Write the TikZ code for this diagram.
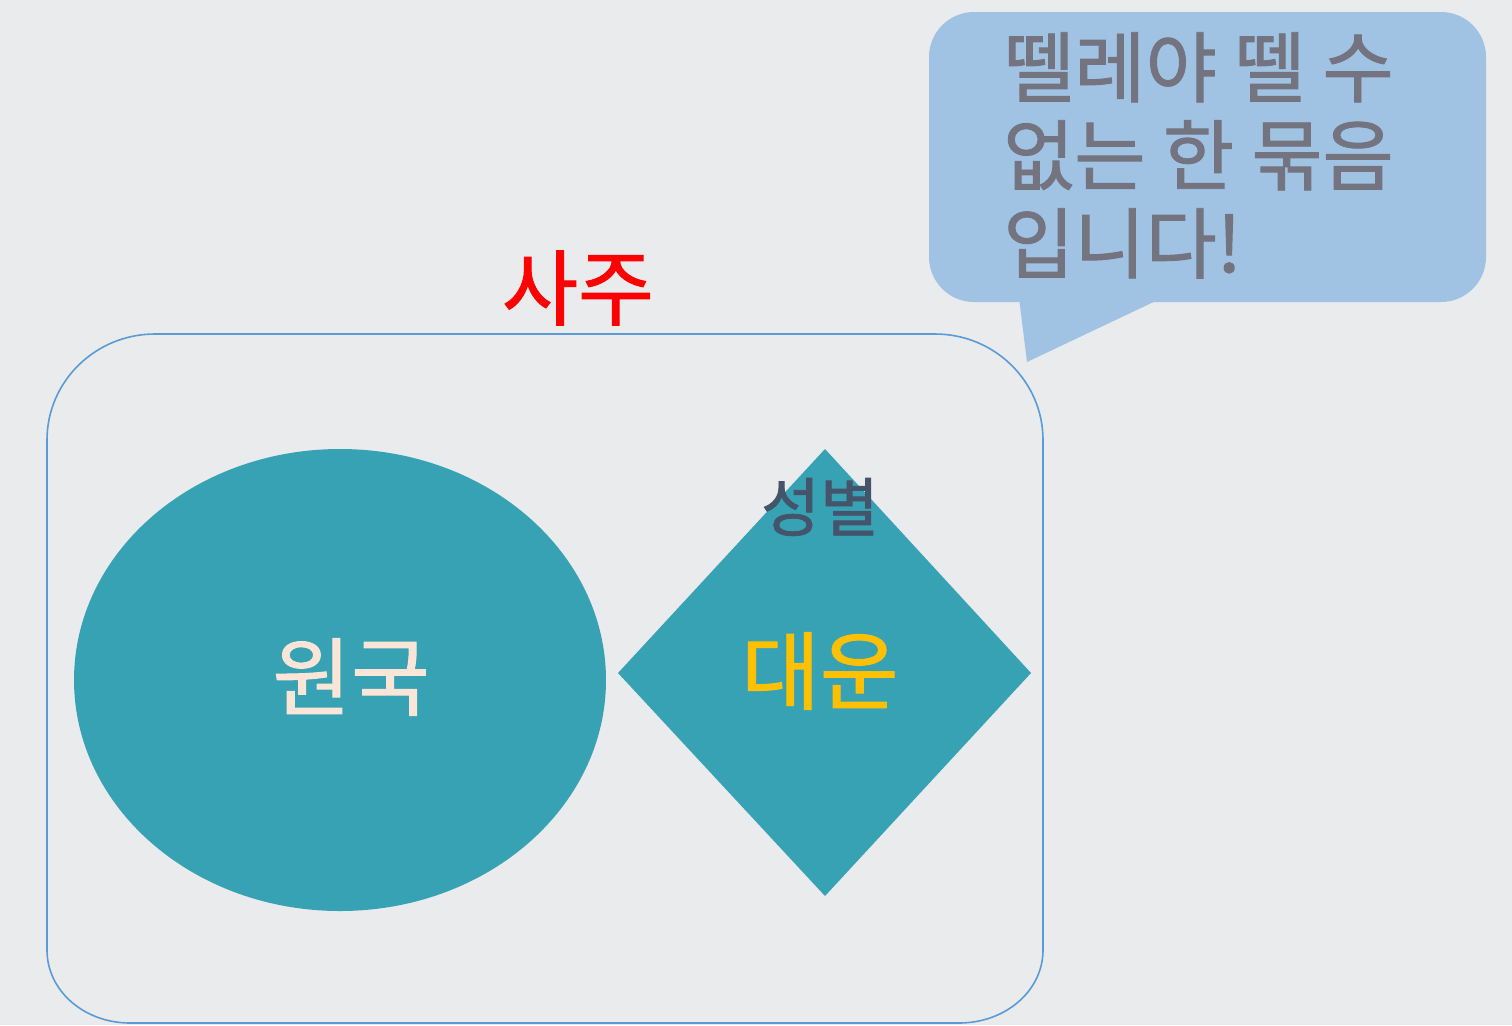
\documentclass[tikz,border=0pt]{standalone}
\usepackage{fontspec}
\setmainfont{Noto Sans CJK KR}
\newfontfamily\medkr[FakeBold=1.2]{Noto Sans CJK KR}
\definecolor{bgc}{HTML}{EAEBED}
\definecolor{teal}{HTML}{38A2B5}
\definecolor{frame}{HTML}{5B9BD5}
\definecolor{bubble}{HTML}{A0C3E3}
\definecolor{bubtext}{HTML}{747480}
\definecolor{slate}{HTML}{44546A}
\definecolor{peach}{HTML}{FBE5D6}
\definecolor{gold}{HTML}{FFC000}
\tikzset{
  lbl/.style={inner sep=0pt, anchor=center},
}
\begin{document}
\begin{tikzpicture}[x=0.75pt,y=-0.75pt]
\fill[bgc] (0,0) rectangle (1512,1025);
\useasboundingbox (0,0) rectangle (1512,1025);
% frame
\draw[frame, line width=1.2pt]
  (47,440) .. controls (47,381.5) and (95.4,334) .. (155,334)
  -- (935,334) .. controls (994.6,334) and (1043,381.5) .. (1043,440)
  -- (1043,950) .. controls (1043,990.9) and (1005.4,1023) .. (959,1023)
  -- (130,1023) .. controls (84.2,1023) and (47,990.9) .. (47,950) -- cycle;
% ellipse
\fill[teal] (340,680) ellipse[x radius=266, y radius=231];
% diamond
\fill[teal] (825,449) -- (1031,673) -- (825,896) -- (618,673) -- cycle;
% bubble
\fill[bubble, rounded corners=45*0.75pt] (929,12) rectangle (1486,302);
\fill[bubble] (1019,298) -- (1027,362) -- (1162,298) -- cycle;
% texts
\node[lbl, text=red, font=\medkr\fontsize{62}{64}\selectfont] (saju) at (578,288) {사주};
\node[lbl, text=peach, font=\medkr\fontsize{64}{66}\selectfont] (wonguk) at (351,677) {원국};
\node[lbl, text=gold, font=\medkr\fontsize{64}{66}\selectfont] (daeun) at (820,671) {대운};
\node[lbl, text=slate, font=\medkr\fontsize{48}{50}\selectfont] (seongbyeol) at (820,507) {성별};
\node[lbl, anchor=north west, text=bubtext, align=left, font=\medkr\fontsize{58}{66}\selectfont] (bubtxt) at (1003,32)
  {뗄레야 뗄 수\\없는 한 묶음\\입니다!};
\end{tikzpicture}
\end{document}
